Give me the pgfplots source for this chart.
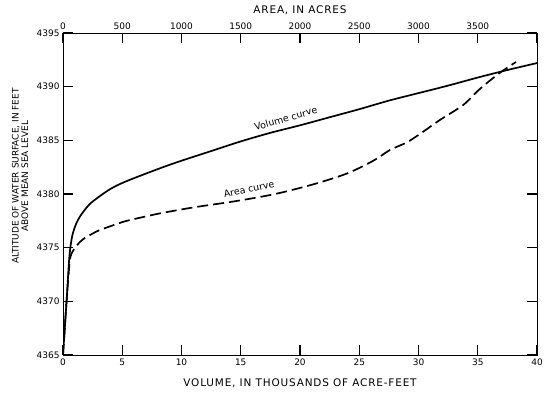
\documentclass[border=0pt]{standalone}
\usepackage{fontspec}
\setmainfont{DejaVu Sans}
\newfontfamily\labelfont[LetterSpace=8]{DejaVu Sans}
\usepackage{pgfplots}
\pgfplotsset{compat=1.18}
\begin{document}
\begin{tikzpicture}
\path[use as bounding box] (0,0) rectangle (550bp,397bp);
\begin{axis}[
  scale only axis, width=474bp, height=322bp,
  at={(63bp,42bp)}, anchor=south west,
  ymin=4365, ymax=4395,
  xmin=0, xmax=40, xtick={0,5,...,40},
  ytick={4365,4370,...,4395},
  major tick length=10bp,
  every tick/.style={draw=black, line width=1.3bp},
  tick label style={font=\fontsize{9}{10}\selectfont},
  /pgf/number format/assume math mode=true,
  /pgf/number format/set thousands separator={},
  xlabel={VOLUME, IN THOUSANDS OF ACRE-FEET},
  xlabel style={font=\labelfont\fontsize{10.5}{11}\selectfont, at={(axis description cs:0.5,0)}, yshift=-28bp, anchor=center},
  ylabel={ALTITUDE OF WATER SURFACE, IN FEET\\ABOVE MEAN SEA LEVEL},
  ylabel style={align=center, font=\fontsize{9}{9.5}\selectfont, at={(axis description cs:-0.0907,0.556)}, anchor=center},
]
\addplot[black, line width=1.7bp, smooth] coordinates {
(0,4365) (0.3,4370) (0.5,4373.6) (0.62,4375.0) (0.8,4376.2) (1.1,4377.2) (1.43,4377.9) (2.0,4378.75) (2.56,4379.35) (3.97,4380.45) (5.37,4381.2) (8.19,4382.4) (10,4383.1) (12.5,4384.0) (15,4384.9) (17.5,4385.7) (20,4386.4) (22.5,4387.15) (25,4387.9) (27.5,4388.7) (30,4389.4) (32.5,4390.1) (35,4390.85) (37.5,4391.55) (40,4392.2)};
\node[rotate=16, font=\fontsize{9.5}{10}\selectfont] at (axis cs:18.8,4387.05) {Volume curve};
\node[rotate=12, font=\fontsize{9.5}{10}\selectfont] at (axis cs:15.7,4380.45) {Area curve};
\end{axis}
\begin{axis}[
  scale only axis, width=474bp, height=322bp,
  at={(63bp,42bp)}, anchor=south west,
  ymin=4365, ymax=4395,
  xmin=0, xmax=4000, hide y axis,
  xtick={0,500,...,3500}, xticklabel pos=right,
  major tick length=10bp,
  every tick/.style={draw=black, line width=1.3bp},
  tick label style={font=\fontsize{9}{10}\selectfont},
  /pgf/number format/assume math mode=true,
  /pgf/number format/set thousands separator={},
  xlabel={AREA, IN ACRES},
  xlabel style={font=\labelfont\fontsize{10.5}{11}\selectfont, at={(axis description cs:0.5,1)}, yshift=23bp, anchor=center},
]
\addplot[black, line width=1.7bp, smooth, dash pattern=on 11bp off 5bp] coordinates {
(0,4365) (30,4370) (55,4373.5) (70,4374.4) (116,4375.2) (171,4375.8) (256,4376.35) (312,4376.65) (453,4377.2) (538,4377.5) (734,4378.0) (819,4378.2) (1100,4378.75) (1409,4379.25) (1650,4379.7) (1831,4380.1) (2112,4380.9) (2394,4381.9) (2619,4383.1) (2759,4384.1) (2900,4384.8) (3013,4385.6) (3181,4386.9) (3378,4388.3) (3519,4389.8) (3688,4391.3) (3823,4392.3)};
\end{axis}
\end{tikzpicture}
\end{document}
